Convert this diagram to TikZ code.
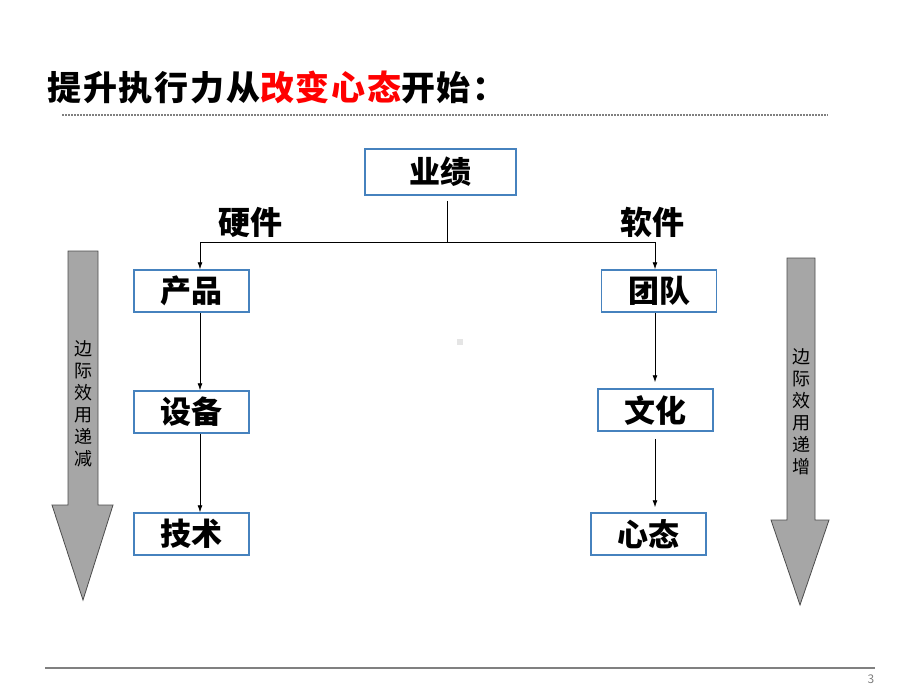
\documentclass[tikz,border=0pt]{standalone}
\usepackage{fontspec}
\setmainfont{Noto Sans CJK SC}
\usetikzlibrary{positioning,arrows.meta}

\definecolor{boxblue}{RGB}{70,130,190}
\definecolor{arrowgray}{RGB}{166,166,166}

\tikzset{
  box/.style={draw=boxblue, line width=1.5pt, fill=white, inner sep=0pt,
    minimum width=115pt, minimum height=42pt,
    font=\fontsize{31}{31}\selectfont\bfseries},
  branch/.style={font=\fontsize{32}{32}\selectfont\bfseries},
  arr/.style={-{Latex[length=7pt,width=5pt]}, line width=0.8pt},
  bigarrow/.style={fill=arrowgray, draw=gray!60!black, line width=0.8pt},
  sidetext/.style={font=\fontsize{18}{22}\selectfont, align=center},
}

\begin{document}
\begin{tikzpicture}[x=1pt, y=-1pt]
    \useasboundingbox (0,0) rectangle (920,690);

    % Title and rules
    \node[anchor=west, font=\fontsize{34}{34}\selectfont\bfseries\addfontfeatures{LetterSpace=5}] (title) at (44,87)
        {提升执行力从{\color{red}改变心态}开始：};
    \coordinate (dotl) at (62,115);
    \coordinate (dotr) at (828,115);
    \draw[gray, line width=2pt, dash pattern=on 1.5pt off 1.5pt] (dotl) -- (dotr);
    \coordinate (footl) at (45,668);
    \coordinate (footr) at (875,668);
    \draw[gray, line width=1.5pt] (footl) -- (footr);
    \node[font=\fontsize{12}{12}\selectfont, text=gray] (page) at (871,679) {3};

    % Side arrows
    \draw[bigarrow] (68,251) -- (98,251) -- (98,505) -- (113,505) -- (83,600)
        -- (52,505) -- (68,505) -- cycle;
    \draw[bigarrow] (787,258) -- (815,258) -- (815,520) -- (829,520) -- (800,605)
        -- (771,520) -- (787,520) -- cycle;
    \node[sidetext] (down) at (83,404) {边\\际\\效\\用\\递\\减};
    \node[sidetext] (up) at (801,412) {边\\际\\效\\用\\递\\增};

    % Boxes
    \node[box, minimum width=151pt, minimum height=46pt] (perf) at (440.5,172) {业绩};
    \node[box] (prod) at (191.5,291) {产品};
    \node[box] (equip) at (191.5,412) {设备};
    \node[box] (tech) at (191.5,534) {技术};
    \node[box] (team) at (659,291) {团队};
    \node[box] (cult) at (655.5,410) {文化};
    \node[box] (mind) at (648.5,534) {心态};

    % Branch labels
    \node[branch] (hard) at (250,222) {硬件};
    \node[branch] (soft) at (652,222) {软件};

    % Connectors
    \coordinate (hub) at (447,242);
    \coordinate (lsp) at (200,242);
    \coordinate (rsp) at (655,242);
    \draw[line width=0.8pt, shorten <=5pt] (perf.south -| hub) -- (hub);
    \draw[line width=0.8pt] (lsp) -- (rsp);
    \draw[arr] (lsp) -- (lsp |- prod.north);
    \draw[arr] (rsp) -- (rsp |- team.north);
    \draw[arr] (lsp |- prod.south) -- (lsp |- equip.north);
    \draw[arr] (lsp |- equip.south) -- (lsp |- tech.north);
    \draw[arr, shorten >=6pt] (rsp |- team.south) -- (rsp |- cult.north);
    \draw[arr, shorten <=7pt, shorten >=5pt] (rsp |- cult.south) -- (rsp |- mind.north);

    % Faint mark
    \fill[gray!20] (457,339) rectangle (463,345);
\end{tikzpicture}
\end{document}
